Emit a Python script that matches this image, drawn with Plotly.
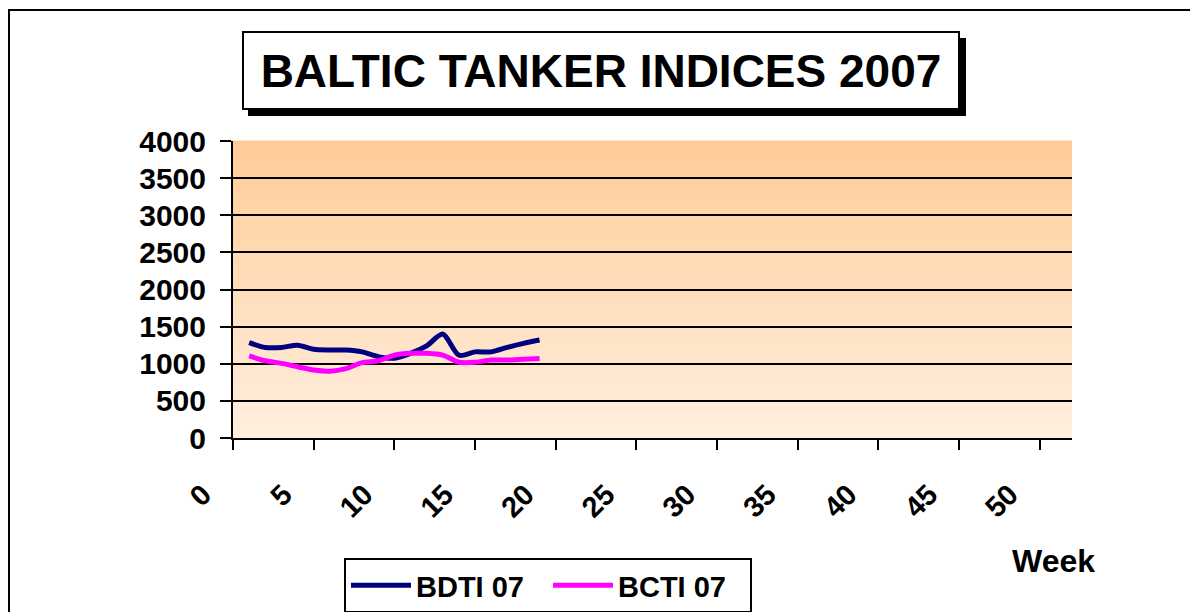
import plotly.graph_objects as go

weeks = list(range(1, 20))
bdti07 = [1285, 1220, 1220, 1250, 1195, 1185, 1185, 1160, 1095, 1075,
          1140, 1240, 1400, 1115, 1160, 1160, 1220, 1275, 1320]
bcti07 = [1105, 1040, 1005, 960, 915, 900, 935, 1015, 1040, 1115,
          1140, 1140, 1115, 1020, 1020, 1050, 1050, 1060, 1070]
title_text = "BALTIC TANKER INDICES 2007"
x_title = "Week"

OFF = 8  # page body margin
W, H = 1198 - OFF, 612 - OFF
# plot area in page pixels
L, R, T, B = 233, 1072, 141, 438
pw, ph = R - L, B - T

def px(x):
    return (x - L) / pw

def py(y):
    return (B - y) / ph

FONT = "Liberation Sans, Arial, sans-serif"

fig = go.Figure()
fig.add_trace(go.Scatter(x=weeks, y=bdti07, mode="lines", name="BDTI 07",
                         line=dict(color="#000080", width=5, shape="spline", smoothing=0.8)))
fig.add_trace(go.Scatter(x=weeks, y=bcti07, mode="lines", name="BCTI 07",
                         line=dict(color="#FF00FF", width=5, shape="spline", smoothing=0.8)))

shapes = []
n = 60
top = (255, 204, 153)
bot = (255, 239, 222)
for i in range(n):
    f = i / (n - 1)
    c = tuple(round(bot[k] + (top[k] - bot[k]) * f) for k in range(3))
    shapes.append(dict(type="rect", xref="paper", yref="paper", x0=0, x1=1,
                       y0=i / n, y1=(i + 1) / n + 0.002, line=dict(width=0),
                       fillcolor="rgb(%d,%d,%d)" % c, layer="below"))
# outer chart border (extends beyond the visible page)
shapes.append(dict(type="rect", xref="paper", yref="paper",
                   x0=px(9), x1=px(1400), y0=py(800), y1=py(10),
                   line=dict(color="black", width=2), fillcolor="rgba(0,0,0,0)", layer="above"))
# title drop shadow
shapes.append(dict(type="rect", xref="paper", yref="paper",
                   x0=px(248), x1=px(966), y0=py(116), y1=py(38),
                   line=dict(width=0), fillcolor="black", layer="above"))

annotations = [
    dict(text="<b>%s</b>" % title_text, xref="paper", yref="paper",
         x=px(601), y=py(71), xanchor="center", yanchor="middle", showarrow=False,
         font=dict(family=FONT, size=46, color="black"), width=714, height=75,
         bgcolor="white", bordercolor="black", borderwidth=2, borderpad=0),
    dict(text="<b>%s</b>" % x_title, xref="paper", yref="paper",
         x=px(1053), y=py(561), xanchor="center", yanchor="middle", showarrow=False,
         font=dict(family=FONT, size=32, color="black")),
]

fig.update_layout(
    width=W, height=H,
    margin=dict(l=L - OFF, r=W - (R - OFF), t=T - OFF, b=H - (B - OFF), autoexpand=False),
    paper_bgcolor="white", plot_bgcolor="rgba(0,0,0,0)",
    shapes=shapes, annotations=annotations,
    showlegend=True,
    legend=dict(orientation="h", x=px(344), y=py(558), xanchor="left", yanchor="top",
                bgcolor="white", bordercolor="black", borderwidth=2,
                font=dict(family=FONT, size=29, color="black", weight="bold"),
                entrywidth=127, entrywidthmode="pixels", itemwidth=60, tracegroupgap=0),
    font=dict(family=FONT, color="black"),
)
fig.update_xaxes(range=[0, 52], tick0=0, dtick=5, showgrid=False, zeroline=False,
                 showline=True, linecolor="black", linewidth=2,
                 ticks="outside", ticklen=10, tickwidth=2, tickcolor="black",
                 tickangle=-45, ticklabelshift=-30, ticklabelstandoff=16,
                 tickfont=dict(family=FONT, size=29, color="black", weight="bold"))
fig.update_yaxes(range=[0, 4000], tick0=0, dtick=500, showgrid=True, gridcolor="black",
                 gridwidth=1.5, zeroline=False,
                 showline=True, linecolor="black", linewidth=2,
                 ticks="outside", ticklen=11, tickwidth=2, tickcolor="black",
                 ticklabelstandoff=8,
                 tickfont=dict(family=FONT, size=30, color="black", weight="bold"))

fig.write_html("out.html")
